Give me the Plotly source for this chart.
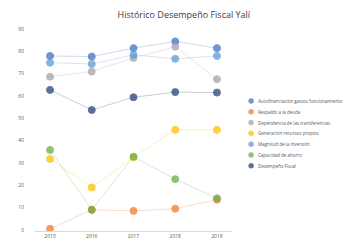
import plotly.graph_objects as go

years = ["2015", "2016", "2017", "2018", "2019"]
series_names = [
    "Autofinanciación gastos funcionamiento",
    "Respaldo a la deuda",
    "Dependencia de las transferencias",
    "Generación recursos propios",
    "Magnitud de la inversión",
    "Capacidad de ahorro",
    "Desempeño Fiscal",
]
autofinanciacion = [77.9, 77.6, 81.4, 84.4, 81.4]
respaldo = [0.5, 9.0, 8.5, 9.5, 13.5]
dependencia = [68.6, 70.9, 77.0, 82.0, 67.5]
generacion = [31.8, 19.0, 32.5, 44.8, 44.8]
magnitud = [74.9, 74.3, 78.4, 76.6, 77.9]
capacidad = [35.8, 9.0, 32.8, 22.7, 14.2]
desempeno = [62.7, 53.7, 59.4, 61.7, 61.5]

series_values = [autofinanciacion, respaldo, dependencia, generacion, magnitud, capacidad, desempeno]
colors = ["#4472C4", "#ED7D31", "#A5A5A5", "#FFC000", "#5B9BD5", "#70AD47", "#264478"]
y_ticks = [0, 10, 20, 30, 40, 50, 60, 70, 80, 90]

fig = go.Figure()
for name, vals, col in zip(series_names, series_values, colors):
    fig.add_trace(go.Scatter(
        x=years, y=vals, name=name, mode="lines",
        line=dict(color=col, width=1), opacity=0.25, showlegend=False, hoverinfo="skip"))
for name, vals, col in zip(series_names, series_values, colors):
    fig.add_trace(go.Scatter(
        x=years, y=vals, name=name, mode="markers",
        marker=dict(color=col, size=7, opacity=0.75, line=dict(color=col, width=1)),
        showlegend=False))

# custom compact legend (positions relative to plot area)
leg_top_px = 93
leg_step_px = 10.8
plot_bottom_px = 223.1
plot_h_px = 211.1
for i, (name, col) in enumerate(zip(series_names, colors)):
    ypx = leg_top_px + i * leg_step_px
    yp = (plot_bottom_px - ypx) / plot_h_px
    fig.add_shape(type="circle", xref="paper", yref="paper",
                  xsizemode="pixel", ysizemode="pixel",
                  xanchor=1.097, yanchor=yp, x0=-2.5, x1=2.5, y0=-2.5, y1=2.5,
                  fillcolor=col, line=dict(color=col, width=0.5), opacity=0.75)
    fig.add_annotation(xref="paper", yref="paper", x=1.122, y=yp,
                       text=name, showarrow=False, xanchor="left", yanchor="middle",
                       font=dict(size=4.5, color="#595959"))

fig.update_layout(
    width=351, height=240,
    margin=dict(l=27, r=127, t=12, b=17, autoexpand=False),
    paper_bgcolor="white", plot_bgcolor="white",
    font=dict(family="Open Sans, Arial, sans-serif", color="#595959"),
    title=dict(text="Histórico Desempeño Fiscal Yalí", x=0.501, xanchor="center",
               y=0.971, yanchor="middle", automargin=False,
               font=dict(size=9, color="#404040")),
    showlegend=False,
)
fig.update_xaxes(type="category", range=[-0.36, 4.36], showgrid=False, automargin=False,
                 showline=True, linecolor="#D9D9D9", linewidth=1,
                 tickfont=dict(size=5, color="#595959"), ticks="")
fig.update_yaxes(range=[-0.5, 94], tickvals=y_ticks, showgrid=False, zeroline=False,
                 automargin=False, ticklabelstandoff=10,
                 showline=False, tickfont=dict(size=5, color="#595959"), ticks="")

fig.write_html("out.html")
